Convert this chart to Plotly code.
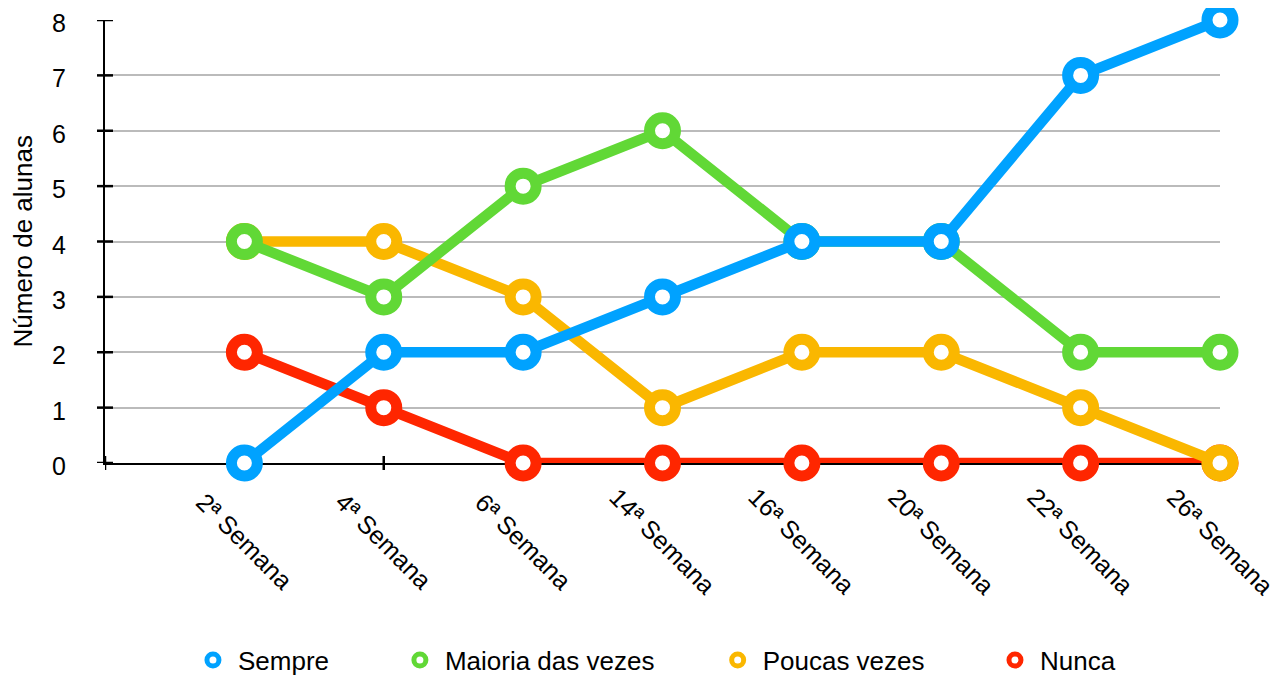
import plotly.graph_objects as go

categories = ["2ª Semana", "4ª Semana", "6ª Semana", "14ª Semana",
              "16ª Semana", "20ª Semana", "22ª Semana", "26ª Semana"]
sempre = [0, 2, 2, 3, 4, 4, 7, 8]
maioria = [4, 3, 5, 6, 4, 4, 2, 2]
poucas = [4, 4, 3, 1, 2, 2, 1, 0]
nunca = [2, 1, 0, 0, 0, 0, 0, 0]
y_ticks = [0, 1, 2, 3, 4, 5, 6, 7, 8]
y_title = "Número de alunas"

series = [
    ("Sempre", sempre, "#00A2FF"),
    ("Maioria das vezes", maioria, "#61D836"),
    ("Poucas vezes", poucas, "#FAB700"),
    ("Nunca", nunca, "#FF2600"),
]

FONT = "Liberation Sans"
FS = 25
xs = list(range(len(categories)))

fig = go.Figure()

# draw in reverse order so that Sempre is on top
for name, vals, color in reversed(series):
    fig.add_trace(go.Scatter(
        x=xs, y=vals, mode="lines+markers", name=name, showlegend=False,
        line=dict(color=color, width=10.5),
        marker=dict(symbol="circle", size=26, color="white",
                    line=dict(color=color, width=11)),
        cliponaxis=False,
    ))

legend_x = [0.0744, 0.260, 0.545, 0.7937]
legend_names = ["legend", "legend2", "legend3", "legend4"]
for (name, vals, color), lx, ln in zip(series, legend_x, legend_names):
    fig.add_trace(go.Scatter(
        x=[None], y=[None], mode="markers", name=name, legend=ln,
        marker=dict(symbol="circle", size=12, color="white",
                    line=dict(color=color, width=5)),
    ))

leg_common = dict(orientation="h", yanchor="middle", y=-0.445, xanchor="left",
                  font=dict(family=FONT, size=26, color="black"),
                  bgcolor="rgba(0,0,0,0)", itemwidth=40)
layout_legends = {}
for lx, ln in zip(legend_x, legend_names):
    layout_legends[ln] = dict(leg_common, x=lx)

shapes = []
# y ticks crossing the axis
for v in y_ticks:
    shapes.append(dict(type="line", xref="paper", yref="y", xsizemode="pixel",
                       xanchor=0, x0=-8, x1=8, y0=v, y1=v,
                       line=dict(color="black", width=2.5), layer="above"))
# x ticks crossing the axis (every two categories)
for v in [-1, 1, 3, 5, 7]:
    shapes.append(dict(type="line", xref="x", yref="paper", ysizemode="pixel",
                       yanchor=0, y0=-7, y1=7, x0=v, x1=v,
                       line=dict(color="black", width=2.5), layer="below"))

annotations = []
for i, c in enumerate(categories):
    annotations.append(dict(x=i, xref="x", y=0, yref="paper", text=c,
                            textangle=45, showarrow=False, xanchor="center",
                            yanchor="middle", yshift=-78,
                            font=dict(family=FONT, size=FS, color="black")))
# y tick labels (slightly below their gridlines, as in the original)
for v in y_ticks:
    annotations.append(dict(x=0, xref="paper", y=v, yref="y", text=str(v),
                            showarrow=False, xanchor="right", yanchor="middle",
                            xshift=-37, yshift=-3,
                            font=dict(family=FONT, size=FS, color="black")))
annotations.append(dict(x=0, xref="paper", y=0.5, yref="paper", text=y_title,
                        textangle=-90, showarrow=False, xanchor="center",
                        yanchor="middle", xshift=-83,
                        font=dict(family=FONT, size=26, color="black")))

fig.update_layout(
    width=1284, height=678,
    margin=dict(l=97, r=72, t=12, b=223, autoexpand=False),
    plot_bgcolor="white", paper_bgcolor="white",
    font=dict(family=FONT, size=FS, color="black"),
    xaxis=dict(range=[-1, 7], showgrid=False, zeroline=False,
               showticklabels=False, ticks="", showline=True,
               linecolor="black", linewidth=2, layer="below traces",
               automargin=False),
    yaxis=dict(range=[0, 8], tickvals=y_ticks, ticks="", showgrid=True,
               gridcolor="#BBBBBB", gridwidth=1.5, zeroline=False,
               showline=True, linecolor="black", linewidth=2,
               layer="below traces", showticklabels=False, automargin=False),
    shapes=shapes,
    annotations=annotations,
    **layout_legends,
)

fig.write_html("out.html")
